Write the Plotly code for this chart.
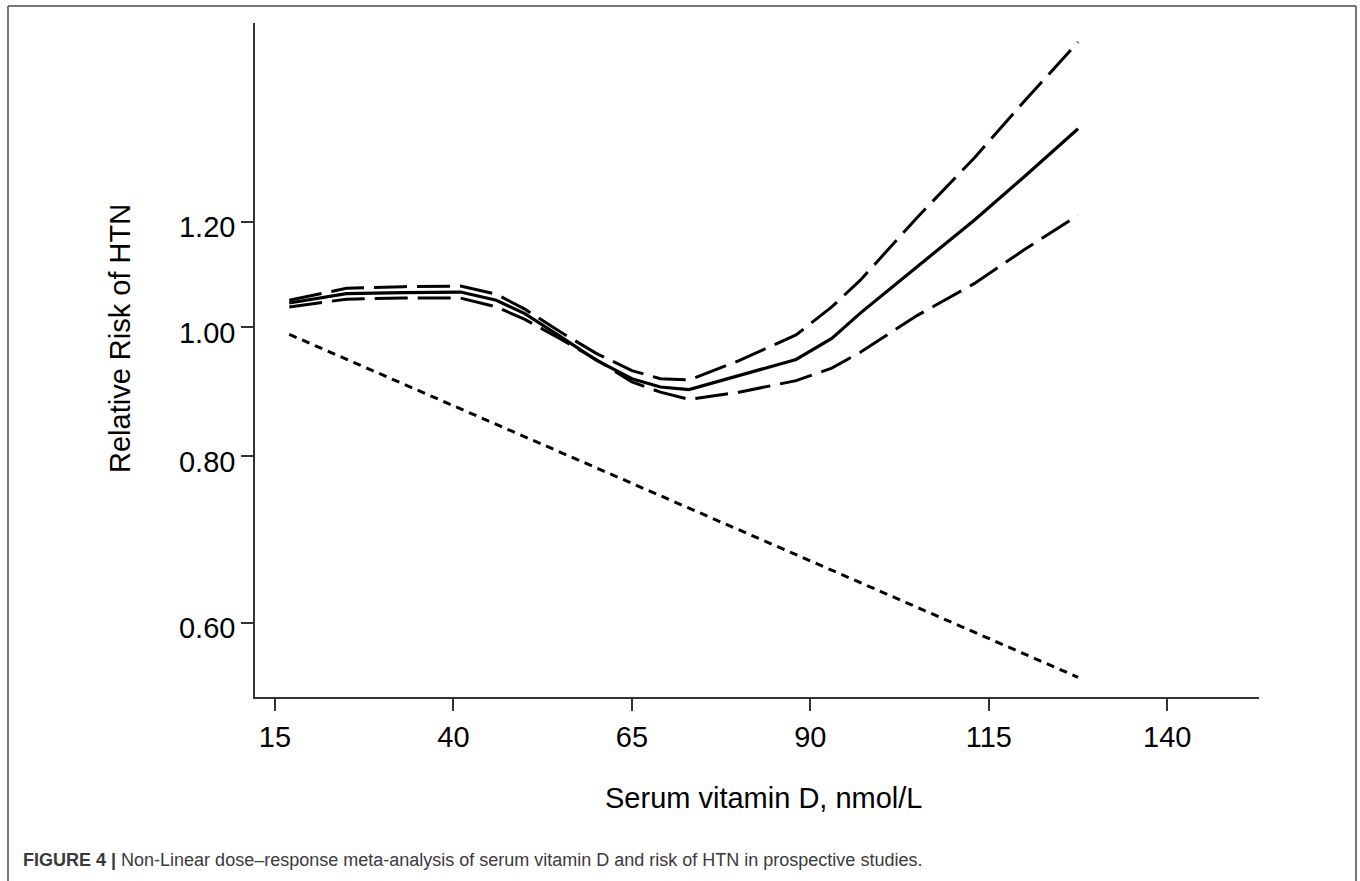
import plotly.graph_objects as go
import math

# ---- data ----
vitd = [17, 25, 33, 41, 46, 50, 55, 60, 65, 69, 73, 80, 88, 93, 97, 105, 113, 120, 127.5]
rr = [1.043, 1.060, 1.062, 1.063, 1.048, 1.024, 0.984, 0.945, 0.915, 0.902, 0.898,
      0.920, 0.946, 0.981, 1.025, 1.111, 1.204, 1.298, 1.410]
rr_upper = [1.048, 1.070, 1.073, 1.074, 1.059, 1.032, 0.992, 0.956, 0.928, 0.915, 0.913,
            0.944, 0.987, 1.036, 1.085, 1.210, 1.341, 1.479, 1.638]
rr_lower = [1.036, 1.050, 1.052, 1.052, 1.036, 1.014, 0.980, 0.946, 0.910, 0.894, 0.883,
            0.894, 0.912, 0.932, 0.958, 1.021, 1.079, 1.144, 1.214]
linear_x = [17, 127.5]
linear_rr = [0.988, 0.546]

x_ticks = [15, 40, 65, 90, 115, 140]
y_ticks = [0.60, 0.80, 1.00, 1.20]
y_tick_labels = ["0.60", "0.80", "1.00", "1.20"]

# ---- layout geometry (pixels) ----
W, H = 1360, 881
L, R, T, B = 255, 101, 23, 184
PW, PH = W - L - R, H - T - B


def px(x):
    return (x - L) / PW


def py(y):
    return (H - B - y) / PH


FONT = "Liberation Sans, Arial, Helvetica, sans-serif"

fig = go.Figure()
fig.add_trace(go.Scatter(x=vitd, y=rr_upper, mode="lines",
                         line=dict(color="black", width=3, dash="33px,10px"),
                         showlegend=False, hoverinfo="skip"))
fig.add_trace(go.Scatter(x=vitd, y=rr_lower, mode="lines",
                         line=dict(color="black", width=3, dash="33px,10px"),
                         showlegend=False, hoverinfo="skip"))
fig.add_trace(go.Scatter(x=vitd, y=rr, mode="lines",
                         line=dict(color="black", width=3.2),
                         showlegend=False, hoverinfo="skip"))
fig.add_trace(go.Scatter(x=linear_x, y=linear_rr, mode="lines",
                         line=dict(color="black", width=3, dash="8px,6px"),
                         showlegend=False, hoverinfo="skip"))

fig.update_xaxes(range=[12.2, 152.85], tickvals=x_ticks, ticks="outside", ticklen=12,
                 tickwidth=1.5, tickcolor="#333", showline=True, linecolor="#333",
                 linewidth=1.5, showgrid=False, zeroline=False,
                 tickfont=dict(family=FONT, size=29, color="black"),
                 ticklabelstandoff=1)
fig.update_yaxes(type="log", range=[math.log10(0.5277), math.log10(1.6928)],
                 tickvals=y_ticks, ticktext=y_tick_labels, ticks="outside", ticklen=12,
                 tickwidth=1.5, tickcolor="#333", showline=True, linecolor="#333",
                 linewidth=1.5, showgrid=False, zeroline=False,
                 tickfont=dict(family=FONT, size=29, color="black"),
                 ticklabelshift=5)

annotations = [
    dict(text="Relative Risk of HTN", x=px(120), y=py(339), xref="paper", yref="paper",
         textangle=-90, showarrow=False, xanchor="center", yanchor="middle",
         font=dict(family=FONT, size=29, color="black")),
    dict(text="Serum vitamin D, nmol/L", x=px(764), y=py(798), xref="paper", yref="paper",
         showarrow=False, xanchor="center", yanchor="middle",
         font=dict(family=FONT, size=29, color="black")),
    dict(text="<b>FIGURE 4 |</b> Non-Linear dose–response meta-analysis of serum vitamin D and risk of HTN in prospective studies.",
         x=px(21), y=py(860), xref="paper", yref="paper", showarrow=False,
         xanchor="left", yanchor="middle",
         font=dict(family=FONT, size=18, color="#3a3a3a")),
]

frame = dict(color="#777777", width=2)
shapes = [
    dict(type="line", xref="paper", yref="paper", x0=px(8), x1=px(8), y0=py(6), y1=py(900), line=frame),
    dict(type="line", xref="paper", yref="paper", x0=px(1356), x1=px(1356), y0=py(6), y1=py(900), line=frame),
    dict(type="line", xref="paper", yref="paper", x0=px(8), x1=px(1356), y0=py(6), y1=py(6), line=frame),
]

fig.update_layout(width=W, height=H, margin=dict(l=L, r=R, t=T, b=B),
                  paper_bgcolor="white", plot_bgcolor="white",
                  annotations=annotations, shapes=shapes, showlegend=False)

fig.write_html("out.html", config={"displayModeBar": False},
               post_script="document.body.style.margin='0';document.body.style.overflow='hidden';")
